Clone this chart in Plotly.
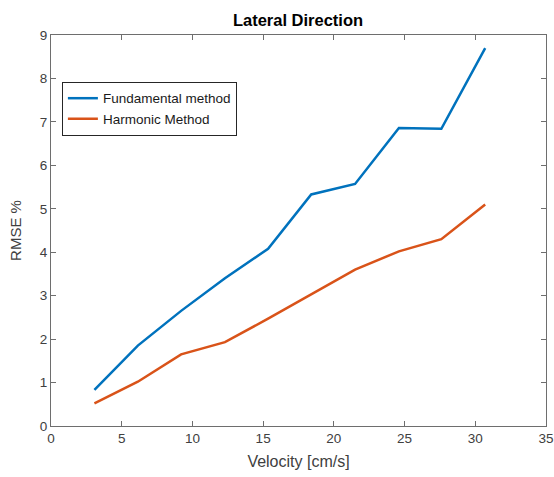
import plotly.graph_objects as go

velocity = [3.07, 6.14, 9.2, 12.3, 15.35, 18.4, 21.5, 24.6, 27.6, 30.7]
fundamental = [0.83, 1.85, 2.65, 3.4, 4.08, 5.33, 5.57, 6.86, 6.84, 8.70]
harmonic = [0.52, 1.02, 1.65, 1.93, 2.47, 3.03, 3.6, 4.02, 4.3, 5.1]

fig = go.Figure()
fig.add_trace(go.Scatter(x=velocity, y=fundamental, mode="lines", name="Fundamental method",
                         line=dict(color="#0072BD", width=2.5)))
fig.add_trace(go.Scatter(x=velocity, y=harmonic, mode="lines", name="Harmonic Method",
                         line=dict(color="#D95319", width=2.5)))

FONT = "Liberation Sans, Arial"
axis_common = dict(showgrid=False, zeroline=False, showline=True, linecolor="#6e6e6e", linewidth=1,
                   mirror="ticks", ticks="inside", ticklen=5, tickcolor="#6e6e6e", automargin=False,
                   tickfont=dict(family=FONT, size=13.5, color="#404040"))

fig.update_layout(
    width=554, height=477,
    margin=dict(l=51, r=8, t=35, b=51),
    paper_bgcolor="white", plot_bgcolor="white",
    title=dict(text="<b>Lateral Direction</b>", x=298 / 554, xanchor="center",
               y=1 - 20 / 477, yref="container", yanchor="middle",
               font=dict(family=FONT, size=16.5, color="#000000")),
    xaxis=dict(range=[0, 35], dtick=5, title=dict(text="Velocity [cm/s]", standoff=10,
               font=dict(family=FONT, size=16, color="#404040")), **axis_common),
    yaxis=dict(range=[0, 9], dtick=1, title=dict(text="RMSE %", standoff=14,
               font=dict(family=FONT, size=15, color="#404040")), **axis_common),
    legend=dict(x=0.022, y=0.88, xanchor="left", yanchor="top", bgcolor="white",
                bordercolor="#262626", borderwidth=1,
                font=dict(family=FONT, size=13.5, color="#1a1a1a"),
                tracegroupgap=0, itemwidth=30),
    showlegend=True,
)

fig.write_html("out.html", config={"displayModeBar": False},
               post_script="document.body.style.margin='0';document.body.style.overflow='hidden';")
